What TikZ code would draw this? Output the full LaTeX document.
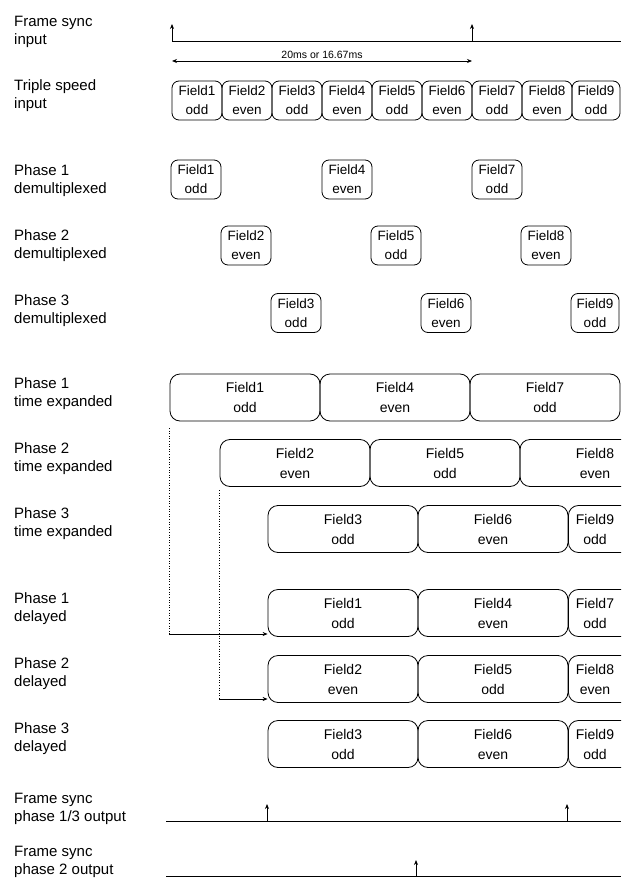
\documentclass[tikz,border=0pt]{standalone}
\usepackage{fontspec}
\setmainfont{Liberation Sans}
\usetikzlibrary{arrows.meta}
\tikzset{
  lbl/.style={anchor=west, align=left, inner sep=0pt, font=\fontsize{15}{18}\selectfont},
  sbox/.style={draw, line width=0.8pt, rounded corners=7pt, align=center, inner sep=0pt,
               minimum width=50pt, minimum height=39pt, font=\fontsize{13.5}{19}\selectfont},
  lbox/.style={draw, line width=0.8pt, rounded corners=10pt, align=center, inner sep=0pt,
               minimum width=150pt, minimum height=47pt, font=\fontsize{14}{20}\selectfont},
  ltext/.style={align=center, inner sep=0pt, font=\fontsize{14}{20}\selectfont},
  sig/.style={line width=0.8pt},
  tip/.style={line width=0.8pt, -{Stealth[length=5pt,width=4pt]}},
  dots/.style={line width=0.6pt, dotted}
}
\begin{document}
\begin{tikzpicture}[x=1pt,y=-1pt]
\useasboundingbox (0,0) rectangle (621,885);
\fill[white] (0,0) rectangle (621,885);
\clip (0,0) rectangle (621,885);

% ---- labels ----
\node[lbl] (l1) at (14,32) {Frame sync\\input};
\node[lbl] (l2) at (14,96) {Triple speed\\input};
\node[lbl] (l3) at (14,181) {Phase 1\\demultiplexed};
\node[lbl] (l4) at (14,246) {Phase 2\\demultiplexed};
\node[lbl] (l5) at (14,311) {Phase 3\\demultiplexed};
\node[lbl] (l6) at (14,394) {Phase 1\\time expanded};
\node[lbl] (l7) at (14,459) {Phase 2\\time expanded};
\node[lbl] (l8) at (14,524) {Phase 3\\time expanded};
\node[lbl] (l9) at (14,609) {Phase 1\\delayed};
\node[lbl] (l10) at (14,674) {Phase 2\\delayed};
\node[lbl] (l11) at (14,739) {Phase 3\\delayed};
\node[lbl] (l12) at (14,809) {Frame sync\\phase 1/3 output};
\node[lbl] (l13) at (14,862) {Frame sync\\phase 2 output};

% ---- frame sync input ----
\coordinate (fs0) at (172,41);
\coordinate (fs1) at (472,41);
\coordinate (fsE) at (621,41);
\draw[sig] (fs0) -- (fsE);
\draw[tip] (fs0) -- ++(0,-17);
\draw[tip] (fs1) -- ++(0,-17);
\coordinate (pa) at (172,61);
\coordinate (pb) at (472,61);
\draw[sig, {Stealth[length=5pt,width=4pt]}-{Stealth[length=5pt,width=4pt]}] (pa) -- (pb)
  node[midway, above=2pt, inner sep=0pt, font=\fontsize{10.5}{12}\selectfont] (per) {20ms or 16.67ms};

% ---- triple speed input ----
\node[sbox] (in1) at (197,100.5) {Field1\\odd};
\node[sbox] (in2) at (247,100.5) {Field2\\even};
\node[sbox] (in3) at (297,100.5) {Field3\\odd};
\node[sbox] (in4) at (347,100.5) {Field4\\even};
\node[sbox] (in5) at (397,100.5) {Field5\\odd};
\node[sbox] (in6) at (447,100.5) {Field6\\even};
\node[sbox] (in7) at (497,100.5) {Field7\\odd};
\node[sbox] (in8) at (547,100.5) {Field8\\even};
\node[sbox, minimum width=48pt] (in9) at (596,100.5) {Field9\\odd};

% ---- demultiplexed ----
\node[sbox] (dm1) at (196,179.5) {Field1\\odd};
\node[sbox] (dm4) at (347,179.5) {Field4\\even};
\node[sbox] (dm7) at (497,179.5) {Field7\\odd};
\node[sbox] (dm2) at (246,245.5) {Field2\\even};
\node[sbox] (dm5) at (396,245.5) {Field5\\odd};
\node[sbox] (dm8) at (546,245.5) {Field8\\even};
\node[sbox] (dm3) at (296,313) {Field3\\odd};
\node[sbox] (dm6) at (446,313) {Field6\\even};
\node[sbox, minimum width=48pt] (dm9) at (595,313) {Field9\\odd};

% ---- time expanded ----
\node[lbox] (te1) at (245,397.5) {Field1\\odd};
\node[lbox] (te4) at (395,397.5) {Field4\\even};
\node[lbox] (te7) at (545,397.5) {Field7\\odd};
\node[lbox] (te2) at (295,463) {Field2\\even};
\node[lbox] (te5) at (445,463) {Field5\\odd};
\node[lbox] (te8) at (595,463) {Field8\\even};
\node[lbox] (te3) at (343,529) {Field3\\odd};
\node[lbox] (te6) at (493,529) {Field6\\even};
\node[lbox, minimum width=80pt, anchor=west] (te9) at (568,529) {};
\node[ltext] (te9t) at (595,529) {Field9\\odd};

% ---- delayed ----
\node[lbox] (dl1) at (343,613) {Field1\\odd};
\node[lbox] (dl4) at (493,613) {Field4\\even};
\node[lbox, minimum width=80pt, anchor=west] (dl7) at (568,613) {};
\node[ltext] (dl7t) at (595,613) {Field7\\odd};
\node[lbox] (dl2) at (343,679) {Field2\\even};
\node[lbox] (dl5) at (493,679) {Field5\\odd};
\node[lbox, minimum width=80pt, anchor=west] (dl8) at (568,679) {};
\node[ltext] (dl8t) at (595,679) {Field8\\even};
\node[lbox] (dl3) at (343,744) {Field3\\odd};
\node[lbox] (dl6) at (493,744) {Field6\\even};
\node[lbox, minimum width=80pt, anchor=west] (dl9) at (568,744) {};
\node[ltext] (dl9t) at (595,744) {Field9\\odd};

% ---- delay markers ----
\coordinate (c1) at (169,428);
\coordinate (c1b) at (169,634);
\draw[dots] (c1) -- (c1b);
\draw[tip] (c1b) -- (c1b -| dl1.west);
\coordinate (c2) at (219,490);
\coordinate (c2b) at (219,699);
\draw[dots] (c2) -- (c2b);
\draw[tip] (c2b) -- (c2b -| dl2.west);

% ---- output frame syncs ----
\coordinate (o1s) at (166,821);
\coordinate (o1e) at (621,821);
\coordinate (o1a) at (267,821);
\coordinate (o1b) at (567,821);
\draw[sig] (o1s) -- (o1e);
\draw[tip] (o1a) -- ++(0,-17);
\draw[tip] (o1b) -- ++(0,-17);
\coordinate (o2s) at (166,876);
\coordinate (o2e) at (621,876);
\coordinate (o2a) at (416,876);
\draw[sig] (o2s) -- (o2e);
\draw[tip] (o2a) -- ++(0,-16);
\end{tikzpicture}
\end{document}
